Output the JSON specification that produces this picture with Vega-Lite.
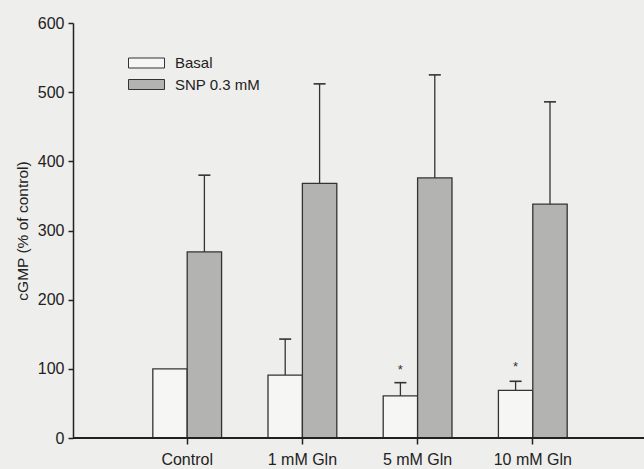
{
  "$schema": "https://vega.github.io/schema/vega-lite/v6.json",
  "autosize": "none",
  "width": 571,
  "height": 415,
  "padding": {"left": 73, "top": 23, "right": 0, "bottom": 31},
  "background": "#eeeeec",
  "config": {
    "view": {"stroke": null},
    "font": "Liberation Sans",
    "axis": {"grid": false, "domainColor": "#222", "tickColor": "#222", "labelColor": "#222", "titleColor": "#222", "labelFont": "Liberation Sans", "titleFont": "Liberation Sans"}
  },
  "data": {
    "values": [
      {"cat": "Control", "group": "Basal", "value": 100, "hi": null, "star": null},
      {"cat": "Control", "group": "SNP 0.3 mM", "value": 269, "hi": 380, "star": null},
      {"cat": "1 mM Gln", "group": "Basal", "value": 91, "hi": 143, "star": null},
      {"cat": "1 mM Gln", "group": "SNP 0.3 mM", "value": 368, "hi": 512, "star": null},
      {"cat": "5 mM Gln", "group": "Basal", "value": 61, "hi": 80, "star": 98},
      {"cat": "5 mM Gln", "group": "SNP 0.3 mM", "value": 376, "hi": 525, "star": null},
      {"cat": "10 mM Gln", "group": "Basal", "value": 69, "hi": 82, "star": 102},
      {"cat": "10 mM Gln", "group": "SNP 0.3 mM", "value": 338, "hi": 486, "star": null}
    ]
  },
  "encoding": {
    "x": {
      "field": "cat", "type": "nominal",
      "sort": ["Control", "1 mM Gln", "5 mM Gln", "10 mM Gln"],
      "scale": {"range": [-1, 575], "paddingInner": 0, "paddingOuter": 0.5},
      "axis": {"title": null, "labelAngle": 0, "labelFontSize": 16, "tickSize": 6, "labelPadding": 7, "domain": false, "tickWidth": 1.5}
    },
    "xOffset": {
      "field": "group", "type": "nominal",
      "sort": ["Basal", "SNP 0.3 mM"],
      "scale": {"paddingInner": 0, "paddingOuter": 0.675}
    }
  },
  "layer": [
    {
      "mark": {"type": "bar", "stroke": "#333", "strokeWidth": 1.3, "opacity": 1},
      "encoding": {
        "y": {
          "field": "value", "type": "quantitative",
          "scale": {"domain": [0, 600], "nice": false},
          "axis": {"title": "cGMP (% of control)", "titleFontSize": 15.5, "titleFontWeight": "normal", "labelFontSize": 16, "values": [0, 100, 200, 300, 400, 500, 600], "tickSize": 5, "labelPadding": 4, "titlePadding": 7, "domainWidth": 1.5, "tickWidth": 1.5}
        },
        "fill": {
          "field": "group", "type": "nominal",
          "scale": {"domain": ["Basal", "SNP 0.3 mM"], "range": ["#f6f6f4", "#b3b3b1"]},
          "legend": {
            "title": null, "orient": "none", "legendX": 63, "legendY": 29.5,
            "symbolType": "M-1.8,-0.5H1.8V0.5H-1.8Z", "symbolSize": 400,
            "symbolStrokeColor": "#333", "symbolStrokeWidth": 1, "symbolOpacity": 1,
            "labelFontSize": 15, "labelColor": "#222", "labelOffset": 18, "rowPadding": 2.5, "padding": 0
          }
        }
      }
    },
    {
      "mark": {"type": "rule", "stroke": "#222", "strokeWidth": 1.5},
      "encoding": {"y": {"datum": 0, "type": "quantitative"}, "xOffset": null, "x": null}
    },
    {
      "transform": [{"filter": "datum.hi != null"}],
      "mark": {"type": "rule", "stroke": "#333", "strokeWidth": 1.3},
      "encoding": {
        "y": {"field": "value", "type": "quantitative"},
        "y2": {"field": "hi"}
      }
    },
    {
      "transform": [{"filter": "datum.hi != null"}],
      "mark": {"type": "tick", "color": "#333", "size": 12, "thickness": 1.6, "opacity": 1},
      "encoding": {
        "y": {"field": "hi", "type": "quantitative"}
      }
    },
    {
      "transform": [{"filter": "datum.star != null"}],
      "mark": {"type": "text", "text": "*", "fontSize": 13, "color": "#333", "baseline": "middle", "dy": 0},
      "encoding": {
        "y": {"field": "star", "type": "quantitative"}
      }
    }
  ]
}
